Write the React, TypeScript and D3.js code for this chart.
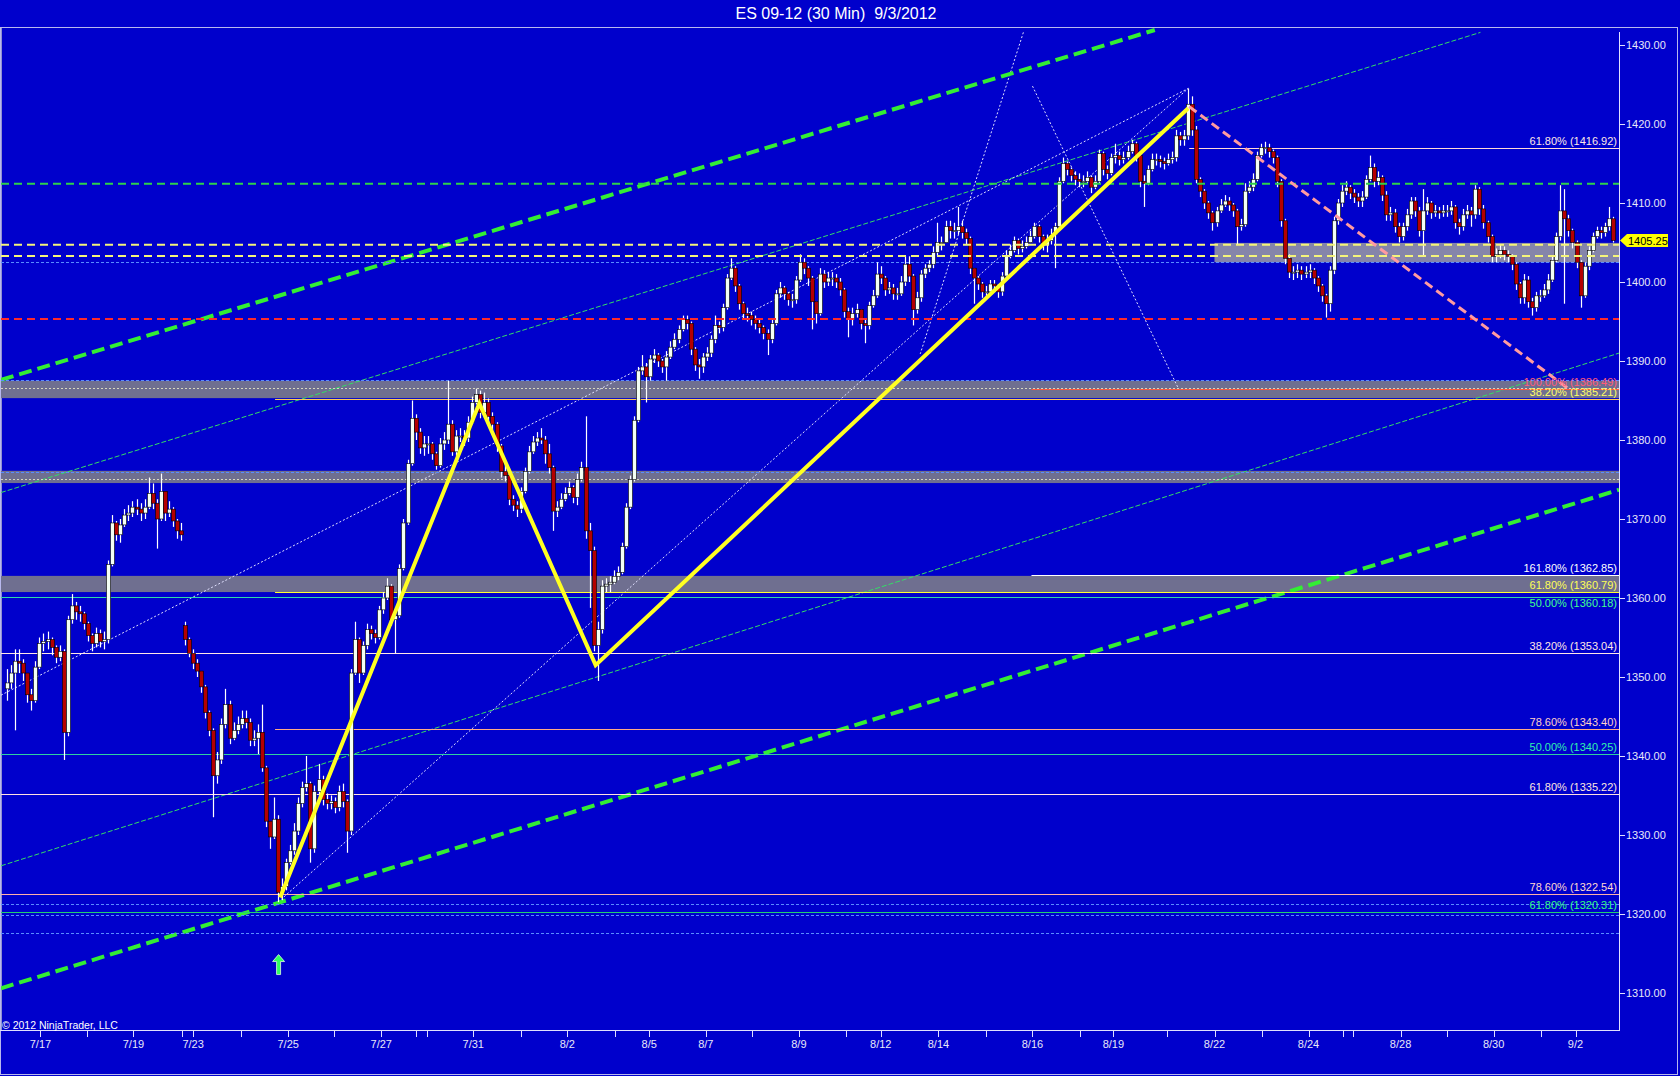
import React from "react";
import * as d3 from "d3";

// ES 09-12 30 minute chart, candles grouped 4 bars (2h) each: [close, high, low, open?]
const julWeekA = [
  [1349.25, 1351, 1347, 1348.5], [1350.5, 1351.5, 1348.5], [1352, 1353.5, 1343.25], [1351.75, 1353.5, 1350.5],
  [1350.5, 1352.25, 1349.5], [1347.75, 1350.5, 1346.75], [1347, 1348.5, 1345.75], [1351.25, 1352, 1346.75],
  [1354.25, 1355, 1351], [1354.5, 1355.5, 1353.25], [1354.75, 1355.75, 1353.5], [1353.75, 1355, 1352.75],
  [1352.5, 1354, 1351.75], [1353.25, 1354, 1352], [1343, 1353.5, 1339.5], [1357.25, 1357.75, 1342.5],
  [1359, 1360.5, 1356.75], [1358.25, 1359.5, 1357.25], [1358, 1359, 1357], [1356.75, 1358.25, 1356],
  [1355.25, 1357, 1354.5], [1354.25, 1355.5, 1353.25], [1355.5, 1356.25, 1353.75], [1354.5, 1356, 1353.75],
  [1354.75, 1355.75, 1353.5], [1364.25, 1364.75, 1354.25], [1369.5, 1370.5, 1364], [1368, 1369.75, 1367.25],
  [1369.25, 1370, 1367], [1370.5, 1371.25, 1369], [1370.75, 1371.75, 1369.75], [1371.5, 1372.25, 1370.25],
  [1371.25, 1372.5, 1370.5], [1370.75, 1372, 1369.75], [1371.5, 1372.5, 1370], [1373.25, 1375.25, 1371.25],
  [1372, 1374.5, 1371.25], [1370, 1372.5, 1366.25], [1373.5, 1375.75, 1369.75], [1370.75, 1373, 1369.75],
  [1371.25, 1372.25, 1370.25], [1369.75, 1371.5, 1369], [1368.5, 1370, 1367.5], [1368, 1369.5, 1367.25],
];

const julWeekB = [
  [1354.75, 1357, 1354, 1356.5], [1353, 1355, 1352.5], [1351.75, 1353.5, 1351], [1350.75, 1352.25, 1350],
  [1348.75, 1350.75, 1348], [1345.5, 1349, 1344.75], [1343.25, 1345.75, 1342.5], [1337.5, 1343.5, 1332.25],
  [1339.5, 1340.5, 1336.5], [1344, 1344.75, 1339], [1346.5, 1348.5, 1343.5], [1342.25, 1347, 1341.5],
  [1343.25, 1344.25, 1342], [1344, 1345, 1342.75], [1344.75, 1345.75, 1343.5], [1344.25, 1345.75, 1343.5],
  [1342, 1344.75, 1341.25], [1342.25, 1343.25, 1341.25], [1343, 1344, 1340.25], [1338.5, 1346.5, 1338],
  [1331.75, 1338.75, 1331], [1329.75, 1331.5, 1328.25], [1332, 1334.75, 1329.5], [1322.75, 1332.5, 1321.5],
  [1323.5, 1324.5, 1321.75], [1326.5, 1327, 1323], [1328, 1328.75, 1326.25], [1330.5, 1331.5, 1327.5],
  [1334, 1334.75, 1330], [1336, 1336.75, 1333.5], [1336.5, 1340, 1335.5], [1328.25, 1336.75, 1326.5],
  [1335.5, 1336.25, 1327.75], [1337, 1339, 1334.75], [1334.5, 1337.5, 1333.75], [1334, 1335.25, 1333.25],
  [1334.25, 1335, 1333.25], [1333.5, 1334.75, 1332.75], [1335.5, 1336.25, 1333], [1334.25, 1336.5, 1333.5],
  [1330.5, 1334.5, 1327.75], [1350.5, 1351, 1330], [1354.75, 1357, 1350.25], [1350.5, 1355, 1349.25],
  [1354, 1354.5, 1350.25], [1356, 1356.75, 1353.5], [1355.5, 1356.5, 1354.75], [1355, 1356, 1354.25],
  [1358.5, 1359, 1354.75], [1360, 1360.75, 1358], [1361.5, 1362.5, 1359.75], [1357.25, 1361.75, 1356.5],
  [1357.75, 1358.25, 1353], [1363.75, 1364.25, 1357.5], [1369.5, 1370, 1363.5], [1377, 1377.5, 1369.25],
  [1382.75, 1385, 1376.75], [1381, 1383.25, 1380], [1379, 1381.5, 1378.25],
];

const augWeekA = [
  [1379.5, 1380.5, 1378], [1379.5, 1380.5, 1378.25], [1378.25, 1379.75, 1377.5], [1376.75, 1378.5, 1376.25],
  [1379.5, 1380.25, 1376.5], [1380, 1381, 1378.75], [1382, 1387.5, 1379.5], [1378.5, 1382.5, 1378],
  [1380.5, 1381.25, 1378], [1380.5, 1381.5, 1379.75], [1380.25, 1381.25, 1379.25], [1382.25, 1383, 1379.75],
  [1384.75, 1385.5, 1382], [1385.75, 1386.5, 1384.5], [1383.5, 1386.25, 1382.75], [1384.75, 1386, 1382.75],
  [1383, 1385.25, 1382.25], [1382, 1383.5, 1381.25], [1379.25, 1382.25, 1378.5], [1376, 1379.5, 1375.25],
  [1375.5, 1377, 1374.75], [1372.5, 1375.75, 1371.75], [1371.75, 1373, 1371], [1371.25, 1372.25, 1370.25],
  [1373.5, 1374, 1370.75], [1376, 1376.5, 1373.25], [1378.5, 1379.25, 1375.75], [1379.75, 1380.5, 1378.25],
  [1380.25, 1381, 1379.25], [1380, 1381.5, 1379.5], [1378.25, 1380.5, 1377], [1376.5, 1379.5, 1375.75],
  [1371, 1376.75, 1368.5], [1371.5, 1372.25, 1370.25], [1372.5, 1373.25, 1371.25], [1373.25, 1374, 1372.25],
  [1374, 1374.75, 1373], [1372.75, 1374.25, 1372], [1375, 1375.75, 1371.75], [1376.5, 1377.25, 1374.75],
  [1368.5, 1383, 1367.5], [1366, 1369.5, 1358.75], [1354, 1366.5, 1353.25], [1356, 1357, 1349.5],
  [1361.5, 1362.25, 1355.5], [1361.75, 1362.5, 1360.75], [1362, 1362.75, 1360.75], [1362.75, 1363.5, 1361.75],
  [1363.25, 1364, 1362.25], [1366.5, 1367, 1363], [1371.5, 1372, 1366.25], [1375, 1375.5, 1371.25],
  [1382.5, 1383, 1374.75], [1388.75, 1389.25, 1382.25], [1389.25, 1390.75, 1388.25], [1388, 1389.75, 1384.75],
  [1390.25, 1390.75, 1387.5], [1390.75, 1391.5, 1389.75], [1390, 1391, 1389.25], [1389.25, 1390.25, 1388.5],
  [1390.5, 1391.25, 1387.5], [1391.75, 1392.5, 1390.25], [1392.75, 1393.5, 1391.5], [1394, 1394.5, 1392.25],
  [1395.25, 1395.75, 1393.75], [1394.75, 1395.75, 1394], [1391.5, 1395, 1390.75], [1389.5, 1391.75, 1388.75],
  [1389.25, 1390.25, 1387.75], [1390.5, 1391, 1388.5], [1391, 1391.75, 1390], [1392.75, 1393.25, 1390.5],
  [1394.5, 1395.75, 1392.25], [1394.25, 1395, 1393.5], [1396.75, 1397.25, 1393.75], [1400.5, 1401, 1396.5],
  [1401.75, 1403, 1400.25], [1399.5, 1402, 1398.75], [1397.25, 1399.75, 1396.5], [1396, 1397.5, 1395.25],
  [1395.75, 1396.75, 1395], [1395.25, 1396.25, 1394.5], [1394.75, 1395.75, 1394], [1394.25, 1395.25, 1393.5],
  [1393.5, 1394.5, 1392.75], [1392.75, 1394, 1390.75], [1394.75, 1395.25, 1392.25], [1398.5, 1399, 1394.5],
  [1399.25, 1400, 1398], [1398.5, 1399.5, 1397.75], [1397.75, 1398.75, 1397], [1397.75, 1398.5, 1396.75],
  [1400.25, 1400.75, 1397.25], [1402.5, 1403.5, 1400], [1401.75, 1403, 1401], [1400.5, 1402, 1399.5],
  [1397.5, 1400.75, 1394], [1396, 1397.5, 1394.75], [1401, 1401.75, 1395.75], [1400, 1401.5, 1399.25],
  [1400.5, 1401.25, 1399.5], [1400.5, 1401.25, 1399.5], [1400, 1401, 1399.25],
];

const augWeekB = [
  [1399, 1400.5, 1398.25], [1396.25, 1399.25, 1395.5], [1395.25, 1396.75, 1393], [1396, 1396.75, 1394.5],
  [1396.5, 1397.25, 1395.5], [1394.75, 1396.5, 1394], [1394.5, 1395.25, 1392.25], [1397, 1397.5, 1394],
  [1398.25, 1399, 1396.75], [1401, 1402.5, 1398], [1400.5, 1402, 1399.75], [1399, 1400.75, 1398.25],
  [1399.25, 1400, 1398.5], [1398.5, 1399.75, 1397.75], [1398.5, 1399.25, 1397.75], [1400, 1400.75, 1398.25],
  [1402.25, 1403.25, 1399.5], [1400.75, 1403.25, 1400], [1396.5, 1401, 1394.5], [1398, 1398.75, 1396],
  [1401, 1401.5, 1397.5], [1401.75, 1402.25, 1400.5], [1402.25, 1402.75, 1401.25], [1403.75, 1404.5, 1401.75],
  [1405, 1407.5, 1403.25], [1405, 1405.75, 1404], [1407, 1407.75, 1405], [1406.5, 1407.75, 1405.5],
  [1406.5, 1407.5, 1405.5], [1407, 1409.5, 1406], [1406.25, 1407.75, 1405.5], [1405.5, 1406.75, 1404.75],
  [1401.75, 1405.75, 1401], [1400.5, 1401.75, 1397.25], [1399.75, 1400.75, 1399], [1398.75, 1400, 1398],
  [1398.75, 1399.5, 1398], [1399.75, 1400.25, 1398.5], [1399.5, 1400.25, 1398.75], [1398.75, 1399.75, 1398],
  [1400.75, 1401.25, 1398.25], [1403.25, 1404, 1400.5], [1404, 1404.75, 1403], [1405.25, 1405.75, 1403.75],
  [1404.25, 1405.5, 1403.5], [1404.5, 1405.25, 1403.75], [1405, 1405.75, 1404.25], [1405.75, 1406.5, 1405],
  [1407, 1407.5, 1405.5], [1405.75, 1407.25, 1405], [1404.75, 1406, 1404], [1405.25, 1406, 1403.75],
  [1406, 1406.75, 1404.75], [1407, 1407.5, 1401.75], [1412.75, 1413.25, 1406.5], [1415, 1415.75, 1412.5],
  [1414.25, 1415.25, 1413.5], [1413.5, 1414.5, 1412.75], [1413, 1414, 1412.25], [1412.75, 1413.75, 1412],
  [1412.75, 1413.5, 1412], [1413.25, 1414, 1412.5], [1412, 1413.5, 1411.25], [1412.75, 1413.5, 1411.75],
  [1416.25, 1416.75, 1412.5], [1414.25, 1416.5, 1413.5], [1413.75, 1414.75, 1413], [1415.75, 1416.25, 1413.5],
  [1416, 1417.5, 1415], [1415.5, 1416.5, 1414.75], [1415.75, 1416.5, 1415], [1416.5, 1417.25, 1415.5],
  [1417.5, 1418, 1416.25], [1416, 1417.75, 1415.25], [1412.75, 1416.25, 1412], [1412.5, 1413.5, 1409.5],
  [1414.25, 1414.75, 1412.25], [1415.5, 1416.25, 1414], [1415.5, 1416.25, 1414.75], [1415.25, 1416, 1414.5],
  [1415, 1415.75, 1414.25], [1415.5, 1416.25, 1414.75], [1415.75, 1416.5, 1415], [1418.5, 1419.25, 1415.25],
  [1418, 1419, 1417.25], [1418.5, 1419.25, 1417.25], [1422.5, 1424.5, 1418], [1419.25, 1423.5, 1418.5],
  [1413, 1419.75, 1412.5], [1411.5, 1413.25, 1410.75], [1410, 1411.75, 1409.25], [1408.75, 1410.25, 1408],
  [1407.5, 1409, 1406.5], [1409, 1409.5, 1407], [1409.75, 1410.5, 1408.75], [1410.25, 1411, 1409.5],
  [1409.75, 1410.75, 1409], [1409, 1410, 1408.25], [1407, 1409.25, 1404.75], [1407.25, 1408, 1406.5],
];

const augWeekC = [
  [1411.5, 1412.5, 1407], [1412, 1412.75, 1411.25], [1413, 1413.75, 1411.5], [1416, 1416.5, 1412.75],
  [1417, 1417.5, 1415.75], [1417, 1417.75, 1416.25], [1416.5, 1417.5, 1415.75], [1415.75, 1416.75, 1415],
  [1412.75, 1416, 1412], [1407.75, 1413, 1407], [1403, 1408, 1402.25], [1401.25, 1403.5, 1400.5],
  [1401.25, 1402, 1400.25], [1401.5, 1402.25, 1400.5], [1401, 1402, 1400.25], [1401.25, 1402, 1400.5],
  [1401.5, 1402.25, 1400.5], [1400.5, 1401.75, 1399.75], [1399.5, 1400.75, 1398.75], [1398.25, 1399.75, 1397.5],
  [1397.25, 1398.5, 1395.5], [1401.5, 1402, 1396.25], [1407.75, 1408.25, 1401], [1410, 1410.5, 1407.25],
  [1411.5, 1412.25, 1409.5], [1412, 1412.75, 1411], [1411.25, 1412.25, 1410.5], [1410.75, 1411.75, 1410],
  [1410.25, 1411.25, 1409.5], [1410.75, 1411.5, 1409.5], [1413, 1413.5, 1410.5], [1414.5, 1416, 1412.75],
  [1412.75, 1415, 1412], [1413.25, 1414, 1412.25], [1411, 1413.5, 1410.25], [1408.5, 1411.5, 1407.75],
  [1408.75, 1409.5, 1407.75], [1407, 1409.25, 1406.25], [1405.75, 1407.5, 1405], [1407, 1407.5, 1405.25],
  [1408.5, 1409.25, 1406.5], [1410.25, 1410.75, 1408], [1409, 1410.75, 1408.25], [1406.5, 1409.5, 1405.75],
  [1409, 1411.75, 1403.25], [1410, 1410.75, 1408.5], [1408.75, 1410.25, 1408], [1409, 1409.75, 1408.25],
  [1408.75, 1409.5, 1408], [1409, 1409.75, 1408.25], [1409, 1409.75, 1408.25], [1409.5, 1410.25, 1408.5],
  [1407.5, 1409.75, 1406.75], [1407, 1408, 1406], [1408.5, 1409.25, 1406.5], [1409, 1409.75, 1408],
  [1408.5, 1409.5, 1407], [1411.75, 1412.25, 1408], [1409.25, 1412, 1408.5], [1407.5, 1409.75, 1406.75],
  [1405.75, 1407.75, 1405], [1403.25, 1406, 1402.5], [1403.5, 1404.25, 1402.5], [1404, 1404.75, 1403],
  [1403.5, 1404.5, 1402.75], [1403.25, 1404, 1402.5], [1402.25, 1403.5, 1401.5], [1399.75, 1402.5, 1399],
  [1398, 1400, 1397.25], [1400.25, 1401, 1397.25], [1397.5, 1400.75, 1396.75], [1396.75, 1398, 1395.75],
  [1398.25, 1398.75, 1396.25], [1398.25, 1399, 1397.5], [1399, 1399.75, 1398], [1400.25, 1401, 1398.5],
  [1402.75, 1403.25, 1400], [1405.75, 1406.25, 1402.5], [1409, 1412.25, 1405.25], [1408, 1411.75, 1397.25],
  [1406.5, 1408.5, 1405.75], [1405, 1406.75, 1404.25], [1402.5, 1405.25, 1401.75], [1398.25, 1402.75, 1396.75],
  [1402, 1402.5, 1398], [1404, 1404.5, 1401.5], [1405.75, 1406.25, 1403.75], [1406.5, 1407, 1405.5],
  [1406.25, 1407, 1405.5], [1407, 1407.5, 1405.75], [1408, 1409.5, 1406.5], [1405.25, 1408.25, 1405],
];

const lastPrice = 1405.25;

const priceTicks = [1310, 1320, 1330, 1340, 1350, 1360, 1370, 1380, 1390, 1400, 1410, 1420, 1430];

// session ticks along the bottom, in 30 minute bar units
const dayTickBars = [39, 85, 131, 179, 190, 237, 284, 329, 376, 410, 421, 467, 514, 560, 607, 641, 697, 743, 789,
  836, 870, 927, 974, 1020, 1067, 1100, 1153, 1200, 1247, 1293, 1327, 1337, 1384, 1430, 1476, 1523, 1557];
const dayTickLabels = ["7/17", "", "7/19", "", "7/23", "", "7/25", "", "7/27", "", "", "7/31", "", "8/2", "", "8/5",
  "8/7", "", "8/9", "", "8/12", "8/14", "", "8/16", "", "8/19", "", "8/22", "", "8/24", "", "", "8/28", "", "8/30", "", "9/2"];

// gray zones [top, bottom, fromBar, colour]
const zones = [
  [1387.5, 1385.3, 0, "#6f6f90"],
  [1376.1, 1374.55, 0, "#6f6f90"],
  [1362.8, 1360.75, 0, "#6f6f90"],
  [1404.95, 1402.5, 1200, "#8585aa"],
];

const dashedLevels = [
  [1412.45, "#2fd24a"],
  [1404.73, "#f4f47a"],
  [1403.3, "#f4f47a"],
  [1395.32, "#ff2a2a"],
];

const thinBlueLevels = [1402.5, 1387.6, 1375.95, 1321.27, 1319.88, 1317.6];
const dottedLevels = [1386.59, 1375.03];

const fibPrices = [1416.92, 1386.49, 1385.21, 1362.85, 1360.79, 1360.18, 1353.04, 1343.4, 1340.25, 1335.22, 1322.54, 1320.31];
const fibLabels = ["61.80%", "100.00%", "38.20%", "161.80%", "61.80%", "50.00%", "38.20%", "78.60%", "50.00%", "61.80%", "78.60%", "61.80%"];
const fibStartBars = [1175, 1019, 271, 1019, 271, 0, 0, 271, 0, 0, 0, 0];
const fibColors = ["#ffd8d8", "#ff5a3c", "#ffcc55", "#ffffff", "#ffff33", "#30d8a8", "#ffe6e6", "#ffaa88", "#30d0a0", "#ffe0e0", "#ffb0a8", "#20d070"];
const fibTextColors = ["#ffe6e6", "#ff5a78", "#ffff66", "#ffffff", "#ffff55", "#40ff90", "#ffe6e6", "#ffd0c8", "#30f0b0", "#ffe6e0", "#ffd8d0", "#30ff80"];
// labels sit above their line, except where two levels are too close together
const fibLabelBelow = [false, false, false, false, false, true, false, false, false, false, false, false];

// drawn objects, [bar, price] anchors
const zigzag = [[276, 1322.1], [473, 1384.65], [588, 1351.5], [1174, 1422]];
const targetLine = [[1175, 1422.2], [1553, 1386.2]];
const thickChannel = [
  [[0, 1387.6], [1141, 1431.9]],
  [[0, 1310.6], [1600, 1373.7]],
];
const thinChannel = [
  [[0, 1373.35], [1463, 1431.6]],
  [[0, 1326.1], [1600, 1391.0]],
];
const fanLines = [
  [[0, 1347.7], [1174, 1424.5]],
  [[274, 1321.5], [1174, 1424.5]],
  [[1020, 1424.8], [1164, 1386.6]],
  [[1011, 1431.6], [909, 1390.9]],
];
const arrowMark = [274.5, 1313.6];

const W = 1680;
const H = 1076;
const plot = { left: 1, right: 1619, top: 28, bottom: 1030 };
const font = "'Liberation Sans', Arial, sans-serif";

export default function App() {
  const x = d3.scaleLinear().domain([0, 1600]).range([plot.left, plot.right]);
  const y = d3.scaleLinear().domain([1310, 1430]).range([993, 45]);

  const candles: { bar: number; o: number; h: number; l: number; c: number }[] = [];
  let prev = 0;
  [julWeekA, julWeekB, augWeekA, augWeekB, augWeekC].flat().forEach((d, k) => {
    const o = d.length > 3 ? d[3] : prev;
    candles.push({ bar: 6 + 4 * k, o, h: d[1], l: d[2], c: d[0] });
    prev = d[0];
  });

  const line = d3.line<number[]>().x((d) => x(d[0])).y((d) => y(d[1]));

  return (
    <div>
      <style>{`body{margin:0;background:#0000cc}`}</style>
      <svg width={W} height={H} style={{ display: "block" }} fontFamily={font}>
        <defs>
          <clipPath id="plotClip">
            <rect x={plot.left} y={plot.top} width={plot.right - plot.left} height={plot.bottom - plot.top} />
          </clipPath>
        </defs>
        <rect x={0} y={0} width={W} height={H} fill="#0000cc" />
        <text x={836} y={19} textAnchor="middle" fill="#ffffff" fontSize={16}>
          {"ES 09-12 (30 Min)\u00a0 9/3/2012"}
        </text>
        <rect x={0.5} y={27.5} width={1677} height={1047} fill="none" stroke="#b8b8ee" />
        <line x1={1.5} x2={1.5} y1={28} y2={plot.bottom} stroke="#9090d0" />

        <g clipPath="url(#plotClip)">
          {zones.map((z, i) => (
            <rect key={"z" + i} x={x(z[2] as number)} width={plot.right - x(z[2] as number)}
              y={y(z[0] as number)} height={y(z[1] as number) - y(z[0] as number)} fill={z[3] as string} />
          ))}

          {thinChannel.map((l, i) => (
            <path key={"tc" + i} d={line(l) || ""} stroke="#33dd66" strokeWidth={1} strokeDasharray="5,2" fill="none" />
          ))}
          {fanLines.map((l, i) => (
            <path key={"fl" + i} d={line(l) || ""} stroke="#e0e0ff" strokeWidth={1} strokeDasharray="2,2" fill="none" />
          ))}
          {thickChannel.map((l, i) => (
            <path key={"th" + i} d={line(l) || ""} stroke="#33ee33" strokeWidth={4} strokeDasharray="13,6" fill="none" />
          ))}

          {thinBlueLevels.map((p, i) => (
            <line key={"b" + i} x1={plot.left} x2={plot.right} y1={Math.round(y(p)) + 0.5} y2={Math.round(y(p)) + 0.5}
              stroke="#5a8cff" strokeDasharray="3,2" />
          ))}
          {dottedLevels.map((p, i) => (
            <line key={"d" + i} x1={plot.left} x2={plot.right} y1={Math.round(y(p)) + 0.5} y2={Math.round(y(p)) + 0.5}
              stroke="#d8d8c0" strokeDasharray="2,2" />
          ))}
          {fibPrices.map((p, i) => (
            <line key={"f" + i} x1={x(fibStartBars[i])} x2={plot.right} y1={Math.round(y(p)) + 0.5} y2={Math.round(y(p)) + 0.5}
              stroke={fibColors[i]} strokeWidth={1} />
          ))}

          {candles.map((d, i) => {
            const cx = Math.round(x(d.bar));
            const up = d.c >= d.o;
            const top = y(Math.max(d.o, d.c));
            const bot = y(Math.min(d.o, d.c));
            return (
              <g key={"c" + i}>
                <line x1={cx + 0.5} x2={cx + 0.5} y1={y(d.h)} y2={y(d.l)} stroke="#ffffff" strokeWidth={1.2} />
                <rect x={cx - 1.5} y={top} width={4} height={Math.max(1, bot - top)}
                  fill={up ? "#f4fff4" : "#b40000"} stroke="#000000" strokeWidth={0.6} />
              </g>
            );
          })}

          {dashedLevels.map((d, i) => (
            <line key={"dl" + i} x1={plot.left} x2={plot.right} y1={y(d[0] as number)} y2={y(d[0] as number)}
              stroke={d[1] as string} strokeWidth={2} strokeDasharray="8,5" />
          ))}

          <path d={line(targetLine) || ""} stroke="#ff9aa0" strokeWidth={3} strokeDasharray="9,5" fill="none" />
          <path d={line(zigzag) || ""} stroke="#ffff22" strokeWidth={4} fill="none" strokeLinejoin="miter" />

          <g transform={`translate(${x(arrowMark[0])},${y(arrowMark[1])})`}>
            <path d="M0,-10 L6,-3 L2,-3 L2,10 L-2,10 L-2,-3 L-6,-3 Z" fill="#30ff60" stroke="#e0ffe0" strokeWidth={0.8} />
          </g>
        </g>

        {fibPrices.map((p, i) => (
          <text key={"ft" + i} x={plot.right - 2} y={fibLabelBelow[i] ? y(p) + 10 : y(p) - 3} textAnchor="end"
            fill={fibTextColors[i]} fontSize={11}>
            {fibLabels[i]} ({p.toFixed(2)})
          </text>
        ))}

        <line x1={plot.right + 0.5} x2={plot.right + 0.5} y1={32} y2={plot.bottom} stroke="#e0e0ff" />
        <line x1={0} x2={plot.right + 1} y1={plot.bottom + 0.5} y2={plot.bottom + 0.5} stroke="#e0e0ff" />
        {priceTicks.map((p) => (
          <g key={"pt" + p}>
            <line x1={plot.right} x2={plot.right + 6} y1={Math.round(y(p)) + 0.5} y2={Math.round(y(p)) + 0.5} stroke="#e0e0ff" />
            <text x={plot.right + 7} y={y(p) + 4} fill="#e8e8f8" fontSize={11}>{p.toFixed(2)}</text>
          </g>
        ))}
        {dayTickBars.map((b, i) => (
          <g key={"xt" + i}>
            <line x1={Math.round(x(b)) + 0.5} x2={Math.round(x(b)) + 0.5} y1={plot.bottom} y2={plot.bottom + 7} stroke="#e0e0ff" />
            {dayTickLabels[i] && (
              <text x={x(b)} y={plot.bottom + 18} textAnchor="middle" fill="#e8e8f8" fontSize={11}>{dayTickLabels[i]}</text>
            )}
          </g>
        ))}

        <g transform={`translate(0,${y(lastPrice)})`}>
          <path d={`M${plot.right + 1},0 L${plot.right + 8},-6.5 L1668,-6.5 L1668,6.5 L${plot.right + 8},6.5 Z`} fill="#ffff00" />
          <text x={plot.right + 9} y={4} fill="#000000" fontSize={11}>{lastPrice.toFixed(2)}</text>
        </g>

        <text x={2} y={1029} fill="#ffffff" fontSize={10.5}>© 2012 NinjaTrader, LLC</text>
      </svg>
    </div>
  );
}
